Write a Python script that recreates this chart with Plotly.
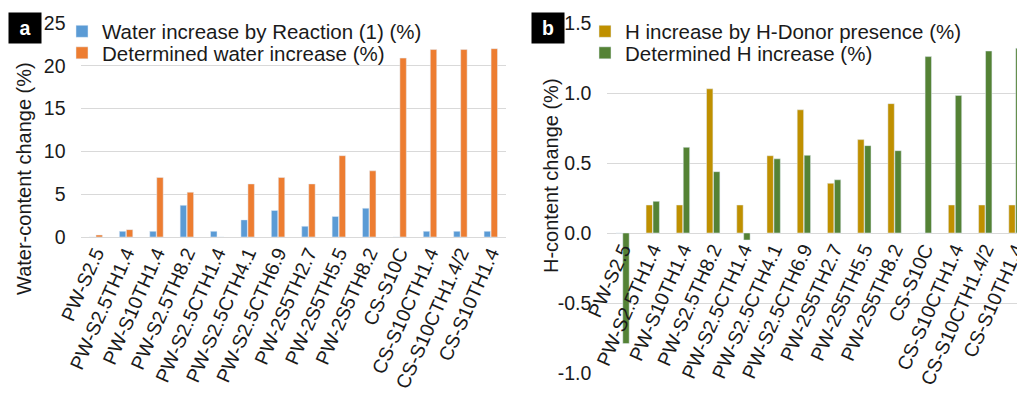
import plotly.graph_objects as go

categories = ["PW-S2.5", "PW-S2.5TH1.4", "PW-S10TH1.4", "PW-S2.5TH8.2", "PW-S2.5CTH1.4",
              "PW-S2.5CTH4.1", "PW-S2.5CTH6.9", "PW-2S5TH2.7", "PW-2S5TH5.5", "PW-2S5TH8.2",
              "CS-S10C", "CS-S10CTH1.4", "CS-S10CTH1.4/2", "CS-S10TH1.4"]

water_by_reaction = [0.0, 0.66, 0.66, 3.7, 0.66, 2.0, 3.1, 1.25, 2.4, 3.36, 0.0, 0.66, 0.66, 0.66]
water_determined = [0.23, 0.86, 6.95, 5.23, 0.0, 6.2, 6.95, 6.2, 9.5, 7.73, 20.9, 21.9, 21.9, 22.0]

h_by_donor = [0.0, 0.2, 0.2, 1.03, 0.2, 0.552, 0.88, 0.355, 0.667, 0.924, 0.0, 0.2, 0.2, 0.2]
h_determined = [-0.79, 0.226, 0.612, 0.438, -0.05, 0.53, 0.555, 0.38, 0.624, 0.588, 1.26, 0.983, 1.30, 1.32]

left_ticks = [0, 5, 10, 15, 20, 25]
right_ticks = [-1.0, -0.5, 0.0, 0.5, 1.0, 1.5]
right_tick_text = ["-1.0", "-0.5", "0.0", "0.5", "1.0", "1.5"]

W, H = 1017, 395
FONT = "Liberation Sans, Arial, sans-serif"
TXT = "#1a1a1a"
GRID = "#d9d9d9"
FS = 19.5
LFS = 20.5
TFS = 20

def px_x(p):
    return p / W

def px_y(p):
    return 1 - p / H

fig = go.Figure()
fig.add_trace(go.Bar(x=categories, y=water_by_reaction, name="Water increase by Reaction (1) (%)",
                     marker_color="#5b9bd5", xaxis="x", yaxis="y", legend="legend2"))
fig.add_trace(go.Bar(x=categories, y=water_determined, name="Determined water increase (%)",
                     marker_color="#ed7d31", xaxis="x", yaxis="y", legend="legend3"))
fig.add_trace(go.Bar(x=categories, y=h_by_donor, name="H increase by H-Donor presence (%)",
                     marker_color="#bf9000", xaxis="x2", yaxis="y2", legend="legend4"))
fig.add_trace(go.Bar(x=categories, y=h_determined, name="Determined H increase (%)",
                     marker_color="#548235", xaxis="x2", yaxis="y2", legend="legend5"))

y_top = 23
y0_left = 237
y_bot_right = 373
zero_right = 233.3

tickfont = dict(family=FONT, size=FS, color=TXT)

def legend_at(xp, yp):
    return dict(x=px_x(xp), y=px_y(yp), xanchor="left", yanchor="middle",
                font=dict(family=FONT, size=LFS, color=TXT), bgcolor="rgba(0,0,0,0)",
                borderwidth=0, itemwidth=30, visible=True)

def panel_label(text, xp):
    return dict(text="<b>%s</b>" % text, x=px_x(xp), y=px_y(28), xref="paper", yref="paper",
                showarrow=False, xanchor="center", yanchor="middle", bgcolor="black",
                font=dict(family=FONT, size=FS, color="white"), width=30, height=28)

def y_title(text, xp, yp):
    return dict(text=text, x=px_x(xp), y=px_y(yp), xref="paper", yref="paper",
                showarrow=False, xanchor="center", yanchor="middle", textangle=-90,
                font=dict(family=FONT, size=TFS, color=TXT))

fig.update_layout(
    width=W, height=H,
    margin=dict(l=0, r=0, t=0, b=0),
    paper_bgcolor="white", plot_bgcolor="white",
    barmode="group", bargap=0.54, bargroupgap=0.08,
    font=dict(family=FONT, size=FS, color=TXT),
    showlegend=True,
    xaxis=dict(domain=[px_x(80.5), px_x(506)], anchor="y", type="category",
               range=[-0.5, 13.5], tickangle=-66, tickfont=tickfont, showgrid=False,
               showline=False, zeroline=False, ticks="", automargin=False),
    yaxis=dict(domain=[px_y(y0_left), px_y(y_top)], anchor="x", range=[0, 25],
               tickvals=left_ticks, tickfont=tickfont, showgrid=True, gridcolor=GRID,
               gridwidth=1, zeroline=True, zerolinecolor=GRID, zerolinewidth=1,
               showline=False, ticks="", ticklabelstandoff=14, automargin=False),
    xaxis2=dict(domain=[px_x(607.4), 1.0], anchor="free", position=px_y(zero_right),
                type="category", range=[-0.5, 13.05], tickangle=-66,
                tickfont=tickfont, showgrid=False, showline=False, zeroline=False,
                ticks="", automargin=False),
    yaxis2=dict(domain=[px_y(y_bot_right), px_y(y_top)], anchor="x2", range=[-1.0, 1.5],
                tickvals=right_ticks, ticktext=right_tick_text, tickfont=tickfont,
                showgrid=True, gridcolor=GRID, gridwidth=1, zeroline=True,
                zerolinecolor=GRID, zerolinewidth=1, showline=False, ticks="",
                ticklabelstandoff=15, automargin=False),
    legend2=legend_at(62, 31.5),
    legend3=legend_at(62, 53),
    legend4=legend_at(585, 31.5),
    legend5=legend_at(585, 53),
    annotations=[
        panel_label("a", 25),
        panel_label("b", 548),
        y_title("Water-content change (%)", 24, 179),
        y_title("H-content change (%)", 551, 176),
    ],
)

fig.write_html("out.html", config={"displayModeBar": False},
               post_script="document.body.style.margin='0';document.body.style.overflow='hidden';")
